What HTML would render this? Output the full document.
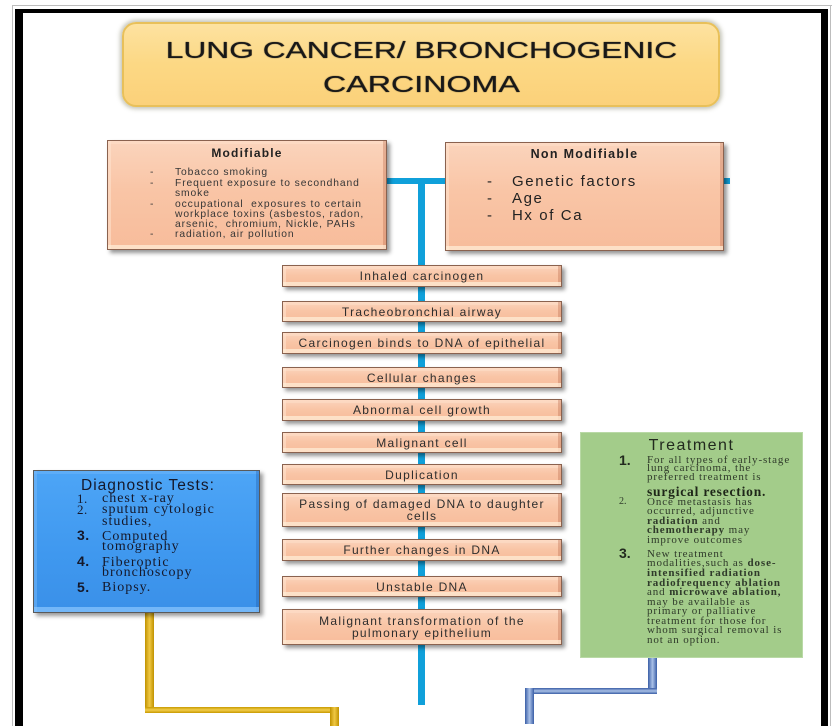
<!DOCTYPE html>
<html>
<head>
<meta charset="utf-8">
<style>
  html,body{margin:0;padding:0;}
  body{width:840px;height:726px;background:#ffffff;position:relative;overflow:hidden;font-family:"Liberation Sans",sans-serif;}
  .a{position:absolute;}
  .ln{position:absolute;white-space:nowrap;}
  .salmon{position:absolute;box-sizing:border-box;
    background:linear-gradient(180deg,#fbd4bc 0%,#f9c5a6 45%,#f7bc9b 100%);
    border:1.5px solid #8a624f;
    box-shadow:3px 3px 4px rgba(0,0,0,0.42),
      inset 0 -4px 0 rgba(255,236,214,0.75),
      inset 3px 0 0 rgba(255,228,208,0.55),
      inset -3px 0 0 rgba(185,105,75,0.35),
      inset 0 3px 0 rgba(255,226,206,0.45);}
  .flow{left:282px;width:280px;display:flex;align-items:center;justify-content:center;text-align:center;
    font-size:12px;letter-spacing:1.3px;line-height:12px;color:#2d2d2d;}
  .cy{position:absolute;background:#10a0da;}
  .mod{font-size:10.3px;letter-spacing:0.9px;line-height:11px;color:#363636;}
  .nm{font-size:15px;letter-spacing:1.6px;line-height:17px;color:#222;}
  .tr{font-family:"Liberation Serif",serif;font-size:11px;letter-spacing:0.9px;line-height:10px;color:#2f3a2a;left:647px;}
  .tr b{font-weight:bold;}
  .dg{font-family:"Liberation Serif",serif;font-size:14px;letter-spacing:1px;line-height:11px;color:#15182a;left:102px;}
</style>
</head>
<body>

<!-- outer frame -->
<div class="a" style="left:12px;top:5px;width:820px;height:1px;background:#bdbdbd;"></div>
<div class="a" style="left:12px;top:5px;width:1px;height:721px;background:#bdbdbd;"></div>
<div class="a" style="left:830px;top:5px;width:1px;height:721px;background:#bdbdbd;"></div>
<div class="a" style="left:15px;top:9px;width:813px;height:4px;background:#000;"></div>
<div class="a" style="left:15px;top:9px;width:8px;height:717px;background:#000;"></div>
<div class="a" style="left:821px;top:9px;width:7px;height:717px;background:#000;"></div>

<!-- title -->
<div class="a" style="left:122px;top:22px;width:598px;height:85px;box-sizing:border-box;border-radius:14px;background:linear-gradient(180deg,#fde2a0 0%,#fcd884 50%,#fbd17a 100%);border:2px solid #e8c05a;box-shadow:0 0 4px 2px rgba(125,125,95,0.45);"></div>
<div class="a" style="left:122px;top:35px;width:598px;height:30px;line-height:30px;text-align:center;font-size:23px;color:#181818;text-shadow:0 0 1px rgba(0,0,0,0.6),0.4px 0 0 rgba(0,0,0,0.5);">
  <span style="display:inline-block;transform:scaleX(1.38);white-space:nowrap;">LUNG CANCER/ BRONCHOGENIC</span></div>
<div class="a" style="left:122px;top:69px;width:598px;height:30px;line-height:30px;text-align:center;font-size:23px;color:#181818;text-shadow:0 0 1px rgba(0,0,0,0.6),0.4px 0 0 rgba(0,0,0,0.5);">
  <span style="display:inline-block;transform:scaleX(1.40);white-space:nowrap;">CARCINOMA</span></div>

<!-- connectors (under boxes) -->
<div class="cy" style="left:387px;top:178px;width:343px;height:6px;"></div>
<div class="cy" style="left:418px;top:178px;width:7px;height:527px;"></div>

<!-- yellow connector -->
<div class="a" style="left:145px;top:612px;width:9px;height:101px;background:linear-gradient(90deg,#c09200,#f0c843 50%,#c09200);"></div>
<div class="a" style="left:145px;top:707px;width:194px;height:6px;background:linear-gradient(180deg,#c89a00,#f2cd4c 50%,#c89a00);"></div>
<div class="a" style="left:330px;top:707px;width:9px;height:19px;background:linear-gradient(90deg,#c09200,#f0c843 50%,#c09200);"></div>

<!-- blue connector -->
<div class="a" style="left:648px;top:657px;width:9px;height:37px;background:linear-gradient(90deg,#3a5ea6,#aac1e8 50%,#3a5ea6);"></div>
<div class="a" style="left:525px;top:688px;width:132px;height:6px;background:linear-gradient(180deg,#3a5ea6,#a9c0e6 50%,#3a5ea6);"></div>
<div class="a" style="left:525px;top:688px;width:9px;height:36px;background:linear-gradient(90deg,#3a5ea6,#aac1e8 50%,#3a5ea6);"></div>

<!-- Modifiable -->
<div class="salmon" style="left:107px;top:140px;width:280px;height:110px;"></div>
<div class="ln" style="left:107px;top:146px;width:280px;text-align:center;font-size:12px;font-weight:bold;letter-spacing:1.2px;line-height:14px;color:#222;">Modifiable</div>
<div class="ln mod" style="left:150px;top:167px;">-</div>
<div class="ln mod" style="left:175px;top:167px;">Tobacco smoking</div>
<div class="ln mod" style="left:150px;top:178px;">-</div>
<div class="ln mod" style="left:175px;top:178px;">Frequent exposure to secondhand</div>
<div class="ln mod" style="left:175px;top:188px;">smoke</div>
<div class="ln mod" style="left:150px;top:199px;">-</div>
<div class="ln mod" style="left:175px;top:199px;">occupational&nbsp; exposures to certain</div>
<div class="ln mod" style="left:175px;top:209px;">workplace toxins (asbestos, radon,</div>
<div class="ln mod" style="left:175px;top:219px;">arsenic,&nbsp; chromium, Nickle, PAHs</div>
<div class="ln mod" style="left:150px;top:228.5px;">-</div>
<div class="ln mod" style="left:175px;top:228.5px;">radiation, air pollution</div>

<!-- Non Modifiable -->
<div class="salmon" style="left:445px;top:142px;width:279px;height:109px;"></div>
<div class="ln" style="left:445px;top:147px;width:279px;text-align:center;font-size:12.5px;font-weight:bold;letter-spacing:1.3px;line-height:14px;color:#222;">Non Modifiable</div>
<div class="ln nm" style="left:487px;top:172.5px;">-</div>
<div class="ln nm" style="left:512px;top:172.5px;">Genetic factors</div>
<div class="ln nm" style="left:487px;top:190px;">-</div>
<div class="ln nm" style="left:512px;top:190px;">Age</div>
<div class="ln nm" style="left:487px;top:206.5px;">-</div>
<div class="ln nm" style="left:512px;top:206.5px;">Hx of Ca</div>

<!-- flow boxes -->
<div class="salmon flow" style="top:265px;height:22px;">Inhaled carcinogen</div>
<div class="salmon flow" style="top:301px;height:21px;">Tracheobronchial airway</div>
<div class="salmon flow" style="top:332px;height:22px;">Carcinogen binds to DNA of epithelial</div>
<div class="salmon flow" style="top:367px;height:21px;">Cellular changes</div>
<div class="salmon flow" style="top:399px;height:22px;">Abnormal cell growth</div>
<div class="salmon flow" style="top:432px;height:21px;">Malignant cell</div>
<div class="salmon flow" style="top:464px;height:21px;">Duplication</div>
<div class="salmon flow" style="top:493px;height:34px;">Passing of damaged DNA to daughter<br>cells</div>
<div class="salmon flow" style="top:539px;height:22px;">Further changes in DNA</div>
<div class="salmon flow" style="top:576px;height:21px;">Unstable DNA</div>
<div class="salmon flow" style="top:609px;height:36px;">Malignant transformation of the<br>pulmonary epithelium</div>

<!-- Diagnostic Tests -->
<div class="a" style="left:33px;top:470px;width:227px;height:143px;box-sizing:border-box;background:linear-gradient(180deg,#4da5f6 0%,#3f98ef 60%,#3a90e8 100%);border:1.5px solid #5a5a5a;box-shadow:3px 3px 4px rgba(0,0,0,0.4),inset 0 -5px 0 rgba(140,200,255,0.7),inset 3px 0 0 rgba(120,185,250,0.5),inset -3px 0 0 rgba(30,90,170,0.35),inset 0 3px 0 rgba(120,185,250,0.4);"></div>
<div class="ln" style="left:48px;top:476.5px;width:200px;text-align:center;font-size:15.5px;letter-spacing:1px;line-height:18px;color:#15182a;">Diagnostic Tests:</div>
<div class="ln dg" style="left:77px;font-size:13px;letter-spacing:0.5px;top:493px;">1.</div>
<div class="ln dg" style="top:493px;">chest x-ray</div>
<div class="ln dg" style="left:77px;font-size:13px;letter-spacing:0.5px;top:504px;">2.</div>
<div class="ln dg" style="top:504px;">sputum cytologic</div>
<div class="ln dg" style="top:515.5px;">studies,</div>
<div class="ln dg" style="left:77px;font-family:'Liberation Sans',sans-serif;font-weight:bold;font-size:14px;letter-spacing:0.5px;top:530px;">3.</div>
<div class="ln dg" style="top:530.5px;">Computed</div>
<div class="ln dg" style="top:541px;">tomography</div>
<div class="ln dg" style="left:77px;font-family:'Liberation Sans',sans-serif;font-weight:bold;font-size:14px;letter-spacing:0.5px;top:556px;">4.</div>
<div class="ln dg" style="top:556.5px;">Fiberoptic</div>
<div class="ln dg" style="top:567px;">bronchoscopy</div>
<div class="ln dg" style="left:77px;font-family:'Liberation Sans',sans-serif;font-weight:bold;font-size:14px;letter-spacing:0.5px;top:581.5px;">5.</div>
<div class="ln dg" style="top:582px;">Biopsy.</div>

<!-- Treatment -->
<div class="a" style="left:580px;top:432px;width:223px;height:226px;box-sizing:border-box;background:#a3cc8a;border:1px solid #b9d9a6;"></div>
<div class="ln" style="left:580px;top:437px;width:223px;text-align:center;font-size:16px;letter-spacing:1.5px;line-height:18px;color:#222a1e;">Treatment</div>
<div class="ln" style="left:619px;top:453px;font-size:14px;font-weight:bold;line-height:14px;color:#222a1e;">1.</div>
<div class="ln tr" style="top:455.3px;">For all types of early-stage</div>
<div class="ln tr" style="top:463px;">lung carcinoma, the</div>
<div class="ln tr" style="top:472px;">preferred treatment is</div>
<div class="ln tr" style="top:486px;font-size:13.5px;letter-spacing:0.8px;line-height:12px;font-weight:bold;color:#1e2618;">surgical resection.</div>
<div class="ln" style="left:619px;top:497px;font-family:'Liberation Serif',serif;font-size:10px;line-height:10px;color:#2f3a2a;">2.</div>
<div class="ln tr" style="top:497px;">Once metastasis has</div>
<div class="ln tr" style="top:506.3px;">occurred, adjunctive</div>
<div class="ln tr" style="top:515.7px;"><b>radiation</b> and</div>
<div class="ln tr" style="top:525.3px;"><b>chemotherapy</b> may</div>
<div class="ln tr" style="top:535px;">improve outcomes</div>
<div class="ln" style="left:619px;top:546px;font-size:14px;font-weight:bold;line-height:14px;color:#222a1e;">3.</div>
<div class="ln tr" style="top:549.3px;">New treatment</div>
<div class="ln tr" style="top:558.3px;">modalities,such as <b>dose-</b></div>
<div class="ln tr" style="top:568px;"><b>intensified radiation</b></div>
<div class="ln tr" style="top:577.7px;"><b>radiofrequency ablation</b></div>
<div class="ln tr" style="top:587px;">and <b>microwave ablation,</b></div>
<div class="ln tr" style="top:596.7px;">may be available as</div>
<div class="ln tr" style="top:606px;">primary or palliative</div>
<div class="ln tr" style="top:615.7px;">treatment for those for</div>
<div class="ln tr" style="top:625.3px;">whom surgical removal is</div>
<div class="ln tr" style="top:634.7px;">not an option.</div>

</body>
</html>
